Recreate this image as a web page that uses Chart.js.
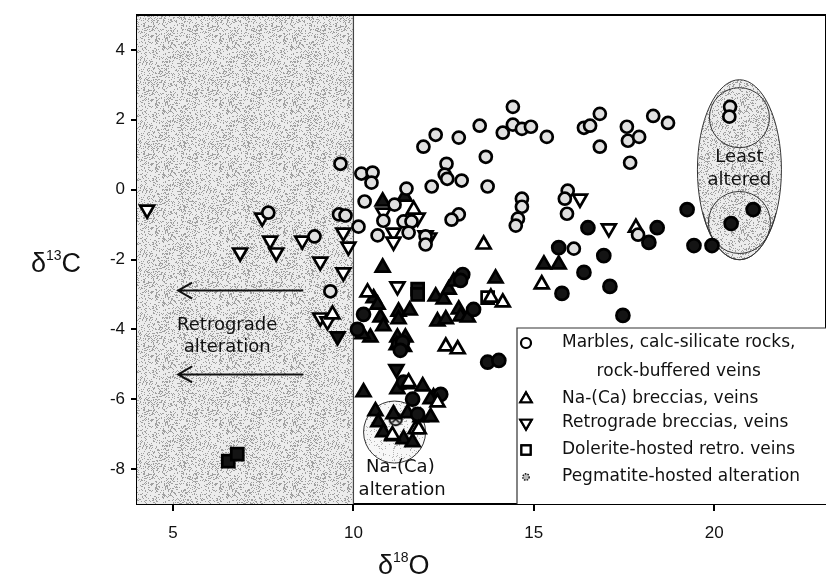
<!DOCTYPE html>
<html><head><meta charset="utf-8">
<script src="https://cdn.jsdelivr.net/npm/chart.js@4"></script>
<style>html,body{margin:0;padding:0;background:#fff;}#wrap{width:826px;height:579px;position:relative;}</style>
</head><body><div id="wrap"><canvas id="c" width="826" height="579"></canvas></div>
<script>
// ---- tick labels ----
const xTicks = [5, 10, 15, 20];
const yTicks = [-8, -6, -4, -2, 0, 2, 4];

// ---- data: [delta18O, delta13C] ----
const marblesOpen = [
 [9.64,0.74],[10.22,0.46],[10.53,0.49],[10.5,0.2],[10.31,-0.34],[11.94,1.23],[12.28,1.57],[12.92,1.49],
 [13.5,1.83],[12.58,0.74],[12.53,0.43],[12.6,0.31],[13.0,0.26],[12.17,0.09],[11.47,0.03],[11.14,-0.43],
 [12.92,-0.71],[12.72,-0.86],[9.6,-0.71],[9.78,-0.74],[7.64,-0.66],[10.14,-1.06],[10.83,-0.89],[11.39,-0.91],
 [11.61,-0.91],[10.67,-1.31],[11.53,-1.23],[8.92,-1.34],[12.0,-1.34],[12.0,-1.57],[13.67,0.94],[13.72,0.09],
 [14.42,2.37],[14.42,1.86],[14.67,1.74],[14.92,1.8],[14.14,1.63],[15.36,1.51],[14.67,-0.26],[14.67,-0.49],
 [14.56,-0.83],[14.5,-1.03],[15.94,-0.03],[15.86,-0.26],[15.92,-0.69],[16.11,-1.69],[16.39,1.77],[16.56,1.83],
 [16.83,2.17],[16.83,1.23],[17.58,1.8],[17.61,1.4],[17.92,1.51],[17.67,0.77],[18.31,2.11],[18.72,1.91],
 [17.89,-1.29],[20.44,2.37],[20.42,2.09],[9.36,-2.91]
];
const marblesFilled = [
 [19.25,-0.57],[21.08,-0.57],[20.47,-0.97],[18.42,-1.09],[16.5,-1.09],[18.19,-1.51],[19.44,-1.6],[19.94,-1.6],
 [15.69,-1.66],[16.94,-1.89],[16.39,-2.37],[15.78,-2.97],[17.11,-2.77],[17.47,-3.6],[13.72,-4.94],[14.03,-4.89],
 [13.03,-2.43],[13.33,-3.43],[10.28,-3.57],[10.11,-4.0],[11.25,-4.43],[11.36,-4.37],[11.64,-6.0],[12.42,-5.86],
 [11.78,-6.43],[11.39,-5.51],[12.97,-2.6],[11.3,-4.6]
];
const naCaOpen = [
 [10.39,-2.94],[12.56,-4.49],[12.89,-4.57],[14.14,-3.23],[13.81,-3.09],[13.61,-1.57],[9.42,-3.57],[11.53,-5.51],
 [12.33,-6.09],[11.72,-6.86],[11.08,-7.03],[11.67,-0.57],[17.83,-1.09],[15.22,-2.71],[11.81,-6.86]
];
const naCaFilled = [
 [10.81,-2.23],[13.94,-2.54],[10.56,-3.11],[10.67,-3.29],[11.25,-3.49],[11.56,-3.46],[10.75,-3.66],[10.83,-3.91],
 [11.25,-3.71],[10.47,-4.23],[10.25,-4.14],[11.22,-4.23],[11.44,-4.23],[12.28,-3.06],[12.5,-3.14],[12.64,-2.86],
 [12.78,-2.63],[12.33,-3.77],[12.56,-3.71],[12.92,-3.43],[12.97,-3.63],[13.17,-3.66],[10.28,-5.8],[11.22,-5.71],
 [11.5,-5.57],[11.92,-5.63],[10.61,-6.34],[10.69,-6.66],[11.11,-6.43],[10.83,-6.94],[11.39,-7.14],[11.86,-6.51],
 [12.14,-6.51],[12.22,-5.94],[12.14,-6.0],[11.08,-7.06],[11.64,-7.23],[11.5,-6.4],[15.28,-2.14],[15.69,-2.14],
 [10.81,-0.34],[11.42,-0.2],[11.2,-4.45],[11.4,-4.5]
];
const retroOpen = [
 [4.28,-0.57],[7.47,-0.8],[9.72,-1.23],[9.86,-1.63],[7.69,-1.46],[8.58,-1.46],[11.11,-1.23],[11.11,-1.49],
 [10.83,-0.66],[11.78,-0.8],[12.0,-1.31],[12.1,-1.37],[6.86,-1.8],[7.86,-1.8],[9.08,-2.06],[9.72,-2.37],
 [11.22,-2.77],[9.08,-3.66],[9.28,-3.77],[16.28,-0.26],[17.08,-1.11]
];
const retroFilled = [[9.56,-4.2],[11.19,-5.14]];
const doleriteOpen = [[13.72,-3.09]];
const doleriteFilled = [[6.53,-7.77],[6.78,-7.57],[11.78,-2.85],[11.78,-3.0]];
const pegmatite = [[11.17,-6.57]];

// ---- series labels (legend) ----
const seriesLabels = [
 'Marbles, calc-silicate rocks,|rock-buffered veins',
 'Na-(Ca) breccias, veins',
 'Retrograde breccias, veins',
 'Dolerite-hosted retro. veins',
 'Pegmatite-hosted alteration'
];

const toXY = a => a.map(p => ({x: p[0], y: p[1]}));

function makePattern(base, dot, density, seed){
  const c = document.createElement('canvas'); c.width = c.height = 64;
  const g = c.getContext('2d'); g.fillStyle = base; g.fillRect(0,0,64,64);
  const img = g.getImageData(0,0,64,64); let s = seed >>> 0;
  for (let i = 0; i < 64*64; i++) {
    s = (Math.imul(s, 1103515245) + 12345) >>> 0;
    if (s / 4294967296 < density) { img.data[i*4] = img.data[i*4+1] = img.data[i*4+2] = dot; }
  }
  g.putImageData(img,0,0);
  return c;
}
const stippleCanvas = makePattern('#ececec', 160, 0.25, 987);
const lightStippleCanvas = makePattern('#f7f7f7', 180, 0.10, 4321);

// pegmatite marker
const pegImg = (() => {
  const c = document.createElement('canvas'); c.width = c.height = 16;
  const g = c.getContext('2d');
  g.beginPath(); g.arc(8,8,6.2,0,Math.PI*2); g.fillStyle = '#d8d8d8'; g.fill();
  g.lineWidth = 2; g.strokeStyle = '#111'; g.stroke();
  g.beginPath(); g.moveTo(4.5,4.5); g.lineTo(11.5,11.5); g.moveTo(11.5,4.5); g.lineTo(4.5,11.5);
  g.lineWidth = 1.6; g.stroke();
  return c;
})();

const ds = (label, data, style, fill, rot, extra) => Object.assign({
  label, data: toXY(data), showLine: false, pointStyle: style, rotation: rot || 0,
  pointRadius: style === 'circle' ? 6 : (style === 'rect' ? 8.5 : 8),
  pointHoverRadius: 6, backgroundColor: fill, borderColor: '#000', borderWidth: 2.7
}, extra || {});

const datasets = [
  ds(seriesLabels[0], marblesOpen, 'circle', '#e0e0e0', 0, {legendIdx: 0}),
  ds(seriesLabels[1], naCaOpen, 'triangle', '#ffffff', 0, {legendIdx: 1}),
  ds(seriesLabels[2], retroOpen, 'triangle', '#ffffff', 180, {legendIdx: 2}),
  ds(seriesLabels[3], doleriteOpen, 'rect', '#ffffff', 0, {legendIdx: 3}),
  ds('filled circles', marblesFilled, 'circle', '#141414', 0, {pointRadius: 6.5}),
  ds('filled up triangles', naCaFilled, 'triangle', '#141414', 0),
  ds('filled down triangles', retroFilled, 'triangle', '#141414', 180),
  ds('filled squares', doleriteFilled, 'rect', '#141414', 0),
  Object.assign(ds(seriesLabels[4], pegmatite, pegImg, '#d8d8d8', 0), {legendIdx: 4})
];

const overlay = {
  id: 'overlay',
  beforeDatasetsDraw(chart) {
    const {ctx, chartArea: a, scales: {x, y}} = chart;
    const pat = ctx.createPattern(stippleCanvas, 'repeat');
    const lpat = ctx.createPattern(lightStippleCanvas, 'repeat');
    ctx.save();
    const x10 = x.getPixelForValue(10);
    ctx.fillStyle = pat; ctx.fillRect(a.left, a.top, x10 - a.left, a.bottom - a.top);
    ctx.strokeStyle = '#444'; ctx.lineWidth = 1.2;
    ctx.beginPath(); ctx.moveTo(x10, a.top); ctx.lineTo(x10, a.bottom); ctx.stroke();

    // least altered ellipse
    const ex = x.getPixelForValue(20.7), ey = y.getPixelForValue(0.57);
    ctx.beginPath(); ctx.ellipse(ex, ey, 42, 90, 0, 0, Math.PI*2);
    ctx.fillStyle = pat; ctx.fill(); ctx.strokeStyle = '#333'; ctx.lineWidth = 1; ctx.stroke();
    ctx.beginPath(); ctx.ellipse(ex, ey + 4, 41, 86, 0, 0.15*Math.PI, 0.85*Math.PI); ctx.stroke();
    ctx.beginPath(); ctx.arc(ex, y.getPixelForValue(2.06), 30, 0, Math.PI*2); ctx.stroke();
    ctx.beginPath(); ctx.arc(ex, y.getPixelForValue(-0.94), 31, 0, Math.PI*2); ctx.stroke();

    // Na-(Ca) circle
    ctx.beginPath(); ctx.arc(x.getPixelForValue(11.14), y.getPixelForValue(-6.94), 31, 0, Math.PI*2);
    ctx.fillStyle = lpat; ctx.fill(); ctx.strokeStyle = '#333'; ctx.stroke();

    // arrows
    ctx.strokeStyle = '#111'; ctx.lineWidth = 2;
    [-2.89, -5.29].forEach(v => {
      const py = y.getPixelForValue(v), x1 = x.getPixelForValue(8.61), x0 = x.getPixelForValue(5.14);
      ctx.beginPath(); ctx.moveTo(x1, py); ctx.lineTo(x0, py);
      ctx.moveTo(x0 + 14, py - 8); ctx.lineTo(x0, py); ctx.lineTo(x0 + 14, py + 8); ctx.stroke();
    });

    // texts
    ctx.fillStyle = '#111'; ctx.textAlign = 'center'; ctx.textBaseline = 'middle';
    ctx.font = '18px "DejaVu Sans", sans-serif';
    const t = (s, vx, vy) => ctx.fillText(s, x.getPixelForValue(vx), y.getPixelForValue(vy));
    t('Retrograde', 6.5, -3.89); t('alteration', 6.5, -4.51);
    t('Least', 20.7, 0.93); t('altered', 20.7, 0.28);
    t('Na-(Ca)', 11.3, -7.94); t('alteration', 11.35, -8.6);

    // frame top/right
    ctx.strokeStyle = '#000'; ctx.lineWidth = 2;
    ctx.beginPath(); ctx.moveTo(a.left, a.top); ctx.lineTo(a.right, a.top); ctx.lineTo(a.right, a.bottom); ctx.stroke();
    ctx.restore();
  },
  afterDatasetsDraw(chart) {
    const {ctx, chartArea: a} = chart;
    ctx.save();
    const bx = 517, by = 328;
    ctx.fillStyle = '#fff'; ctx.fillRect(bx, by, a.right - bx, a.bottom - by);
    ctx.strokeStyle = '#333'; ctx.lineWidth = 1.2;
    ctx.beginPath(); ctx.moveTo(bx, a.bottom); ctx.lineTo(bx, by); ctx.lineTo(a.right, by); ctx.stroke();
    ctx.font = '17px "DejaVu Sans", sans-serif'; ctx.fillStyle = '#111';
    ctx.textBaseline = 'middle'; ctx.textAlign = 'left';
    const rows = [343, 399, 423, 450, 477];
    const items = chart.data.datasets.filter(d => d.legendIdx !== undefined).sort((p, q) => p.legendIdx - q.legendIdx);
    items.forEach((d, i) => {
      const yy = rows[i];
      const lines = d.label.split('|');
      ctx.fillText(lines[0], 562, yy);
      if (lines[1]) {
        const w0 = ctx.measureText(lines[0]).width, w1 = ctx.measureText(lines[1]).width;
        ctx.fillText(lines[1], 562 + (w0 - w1) / 2, yy + 29);
      }
      const st = d.pointStyle;
      if (st === pegImg) {
        ctx.beginPath(); ctx.arc(526, yy, 3.2, 0, Math.PI*2); ctx.fillStyle = '#bbb'; ctx.fill();
        ctx.lineWidth = 1.4; ctx.setLineDash([1.5, 1.2]); ctx.strokeStyle = '#111'; ctx.stroke(); ctx.setLineDash([]);
        ctx.fillStyle = '#111';
      } else {
        Chart.helpers.drawPoint(ctx, {pointStyle: st, radius: st === 'circle' ? 5 : (st === 'rect' ? 6.5 : 6.5),
          rotation: d.rotation, borderWidth: 2}, 526, yy);
        ctx.fillStyle = '#fff'; ctx.strokeStyle = '#000'; ctx.lineWidth = 2.2;
        ctx.fill(); ctx.stroke(); ctx.fillStyle = '#111';
      }
    });
    ctx.restore();
  },
  afterDraw(chart) {
    const {ctx} = chart;
    ctx.save(); ctx.fillStyle = '#111'; ctx.textBaseline = 'alphabetic'; ctx.textAlign = 'left';
    const title = (px, py, sup, main) => {
      ctx.font = '27px "Liberation Sans", sans-serif';
      ctx.fillText('\u03b4', px, py);
      let w = ctx.measureText('\u03b4').width;
      ctx.font = '14px "Liberation Sans", sans-serif';
      ctx.fillText(sup, px + w, py - 12);
      w += ctx.measureText(sup).width;
      ctx.font = '27px "Liberation Sans", sans-serif';
      ctx.fillText(main, px + w, py);
    };
    title(31, 272, '13', 'C');
    title(378, 574, '18', 'O');
    ctx.restore();
  }
};

new Chart(document.getElementById('c'), {
  type: 'scatter',
  data: {datasets},
  options: {
    responsive: false, animation: false, devicePixelRatio: 1,
    layout: {autoPadding: false, padding: {left: 0, top: 15, right: 0, bottom: 0}},
    plugins: {legend: {display: false}, tooltip: {enabled: false}},
    scales: {
      x: {
        type: 'linear', min: 4, max: 23.1,
        afterBuildTicks: s => { s.ticks = xTicks.map(v => ({value: v})); },
        afterFit: s => { s.height = 75; s.paddingLeft = 0; s.paddingRight = 0; },
        ticks: {color: '#111', font: {family: '"Liberation Sans", sans-serif', size: 17}, padding: 12, maxRotation: 0},
        grid: {display: true, drawOnChartArea: false, drawTicks: true, tickLength: 7, color: '#000', lineWidth: 2},
        border: {display: true, color: '#000', width: 2}
      },
      y: {
        type: 'linear', min: -9, max: 5,
        afterBuildTicks: s => { s.ticks = yTicks.map(v => ({value: v})); },
        afterFit: s => { s.width = 137; s.paddingTop = 0; s.paddingBottom = 0; },
        ticks: {color: '#111', font: {family: '"Liberation Sans", sans-serif', size: 17}, padding: 6},
        grid: {display: true, drawOnChartArea: false, drawTicks: true, tickLength: 6, color: '#000', lineWidth: 2},
        border: {display: true, color: '#000', width: 2}
      }
    }
  },
  plugins: [overlay]
});
</script>
</body></html>
